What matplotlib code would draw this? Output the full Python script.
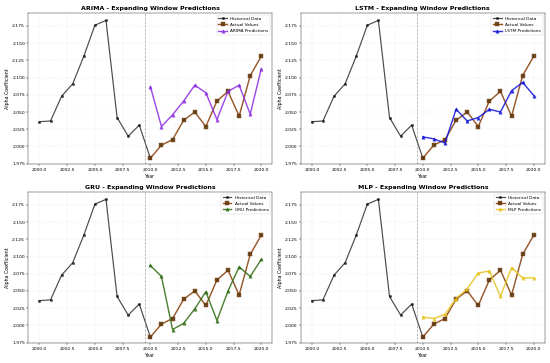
import matplotlib.pyplot as plt
import numpy as np

hist_years = np.arange(2000, 2011)
hist_vals = np.array([2.036, 2.037, 2.073, 2.091, 2.131, 2.176, 2.183, 2.042, 2.015, 2.031, 1.983])

test_years = np.arange(2010, 2021)
actual = np.array([1.983, 2.002, 2.010, 2.038, 2.050, 2.029, 2.066, 2.080, 2.044, 2.103, 2.131])

models = ['ARIMA', 'LSTM', 'GRU', 'MLP']
arima = np.array([2.087, 2.029, 2.046, 2.066, 2.089, 2.078, 2.039, 2.080, 2.089, 2.047, 2.113])
lstm = np.array([2.014, 2.011, 2.005, 2.054, 2.037, 2.042, 2.054, 2.050, 2.081, 2.093, 2.074])
gru = np.array([2.087, 2.071, 1.994, 2.003, 2.024, 2.049, 2.007, 2.050, 2.085, 2.071, 2.096])
mlp = np.array([2.012, 2.010, 2.016, 2.039, 2.053, 2.076, 2.079, 2.042, 2.084, 2.069, 2.069])
preds = [arima, lstm, gru, mlp]
colors = ['#8a2be2', '#1010d8', '#2e6b10', '#e6c21a']

fig, axes = plt.subplots(2, 2, figsize=(16, 10.56))
axes = axes.flatten()

for i, ax in enumerate(axes):
    ax.plot(hist_years, hist_vals, 'k-', marker='o', ms=5, lw=2.5, alpha=0.7, label='Historical Data')
    ax.plot(test_years, actual, '-', color='#8b4513', marker='s', ms=7, mfc='#5a3a10', lw=3,
            alpha=0.9, label='Actual Values')
    ax.plot(test_years, preds[i], '-', color=colors[i], marker='^', ms=7, lw=3, alpha=0.85,
            label=models[i] + ' Predictions')
    ax.axvline(2009.5, color='gray', linestyle='--', alpha=0.7)
    ax.set_title(models[i] + ' - Expanding Window Predictions', fontsize=13, fontweight='bold')
    ax.set_xlabel('Year', fontsize=10)
    ax.set_ylabel('Alpha Coefficient', fontsize=10)
    ax.set_ylim(1.974, 2.194)
    ax.set_yticks([1.975, 2.0, 2.025, 2.05, 2.075, 2.1, 2.125, 2.15, 2.175])
    ax.tick_params(labelsize=9.5)
    ax.grid(True, linestyle='--', alpha=0.3)
    ax.legend(fontsize=9, loc='upper right')

plt.tight_layout()
plt.savefig('out.png', dpi=34.375)
